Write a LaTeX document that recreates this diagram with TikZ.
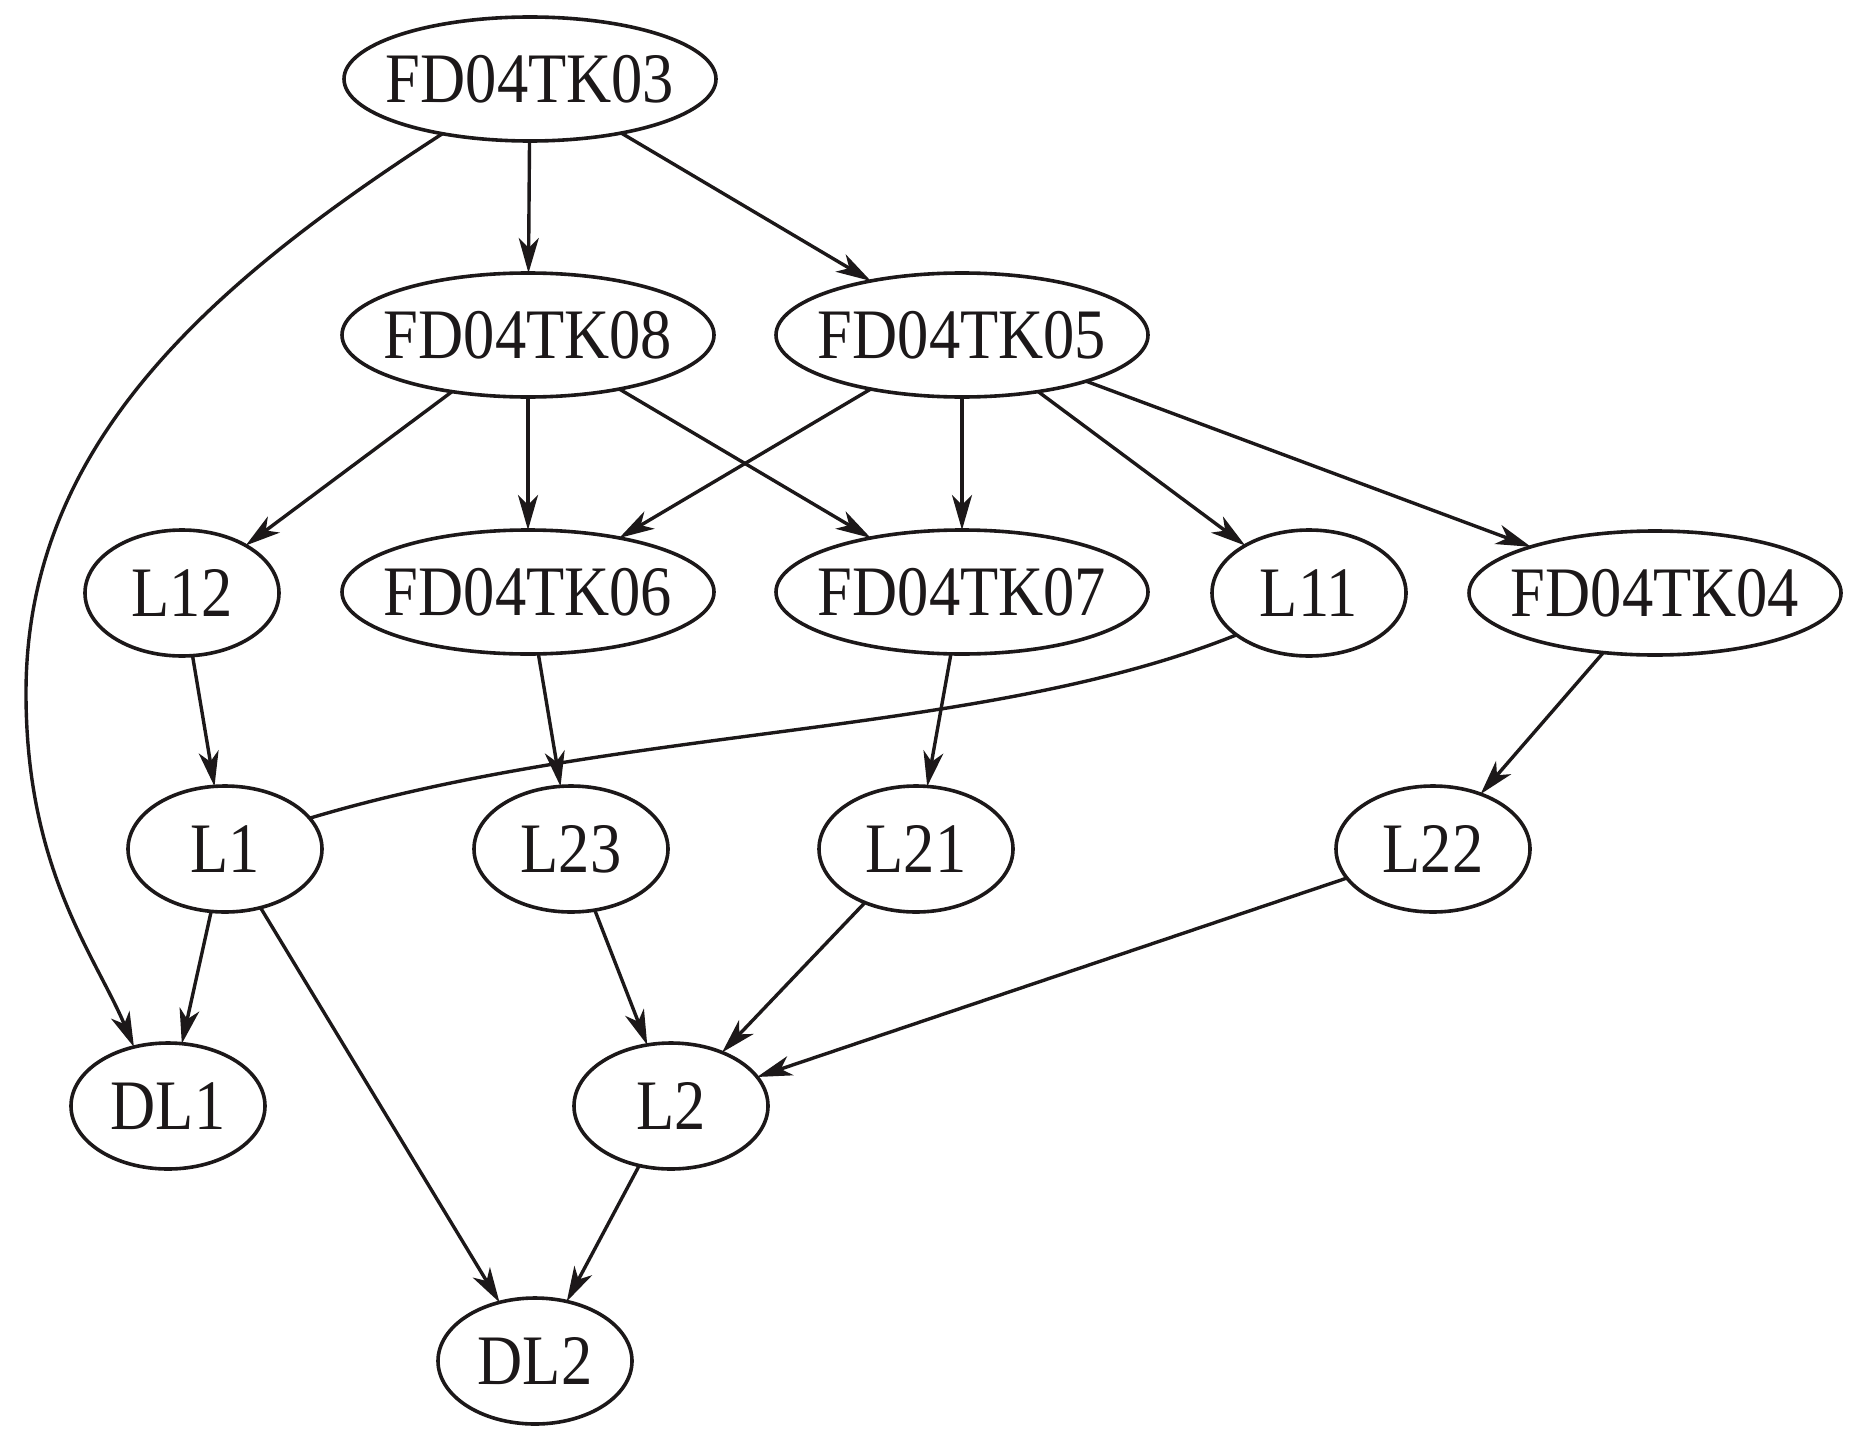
\documentclass[tikz,border=0pt]{standalone}
\usepackage{fontspec}
\setmainfont{Liberation Serif}[FakeStretch=0.88]
\usetikzlibrary{shapes.geometric,arrows.meta}
\definecolor{ink}{RGB}{28,24,25}
\newcommand\lbl[1]{\makebox[0pt]{#1}}
\begin{document}
\begin{tikzpicture}[x=1pt,y=-1pt,
  bignode/.style={ellipse,draw=ink,line width=3.6pt,inner sep=0pt,outer sep=0pt,minimum width=372pt,minimum height=124pt,font=\fontsize{71pt}{84pt}\selectfont,text=ink},
  smallnode/.style={bignode,minimum width=194pt,minimum height=126pt},
  arr/.style={draw=ink,line width=3.4pt,-{Stealth[length=35pt,width=20pt,inset=10pt]}},
  plain/.style={draw=ink,line width=3.4pt}]
\useasboundingbox (0,0) rectangle (1867,1455);
\node[bignode] (t03) at (530,79) {\lbl{FD04TK03}};
\node[bignode] (t08) at (528,335) {\lbl{FD04TK08}};
\node[bignode] (t05) at (962,335) {\lbl{FD04TK05}};
\node[smallnode] (l12) at (182,593) {\lbl{L12}};
\node[bignode] (t06) at (528,592) {\lbl{FD04TK06}};
\node[bignode] (t07) at (962,592) {\lbl{FD04TK07}};
\node[smallnode] (l11) at (1309,593) {\lbl{L11}};
\node[bignode] (t04) at (1655,593) {\lbl{FD04TK04}};
\node[smallnode] (l1) at (225,849) {\lbl{L1}};
\node[smallnode] (l23) at (571,849) {\lbl{L23}};
\node[smallnode] (l21) at (916,849) {\lbl{L21}};
\node[smallnode] (l22) at (1433,849) {\lbl{L22}};
\node[smallnode] (dl1) at (168,1106) {\lbl{DL1}};
\node[smallnode] (l2) at (671,1106) {\lbl{L2}};
\node[smallnode] (dl2) at (535,1361) {\lbl{DL2}};
\draw[arr] (t03) -- (t08);
\draw[arr] (t03) -- (t05);
\draw[arr] (t03.212) .. controls (200,290) and (26,450) .. (26,693) .. controls (26,870) and (95,955) .. (dl1.120);
\draw[arr] (t08) -- (l12);
\draw[arr] (t08) -- (t06);
\draw[arr] (t08) -- (t07);
\draw[arr] (t05) -- (t06);
\draw[arr] (t05) -- (t07);
\draw[arr] (t05) -- (l11);
\draw[arr] (t05) -- (t04);
\draw[arr] (l12) -- (l1);
\draw[arr] (t06) -- (l23);
\draw[arr] (t07) -- (l21);
\draw[arr] (t04) -- (l22);
\draw[plain] (l11.210) .. controls (983,737) and (621,725) .. (l1.20);
\draw[arr] (l1) -- (dl1);
\draw[arr] (l1) -- (dl2);
\draw[arr] (l23) -- (l2);
\draw[arr] (l21) -- (l2);
\draw[arr] (l22) -- (l2);
\draw[arr] (l2) -- (dl2);
\end{tikzpicture}
\end{document}
